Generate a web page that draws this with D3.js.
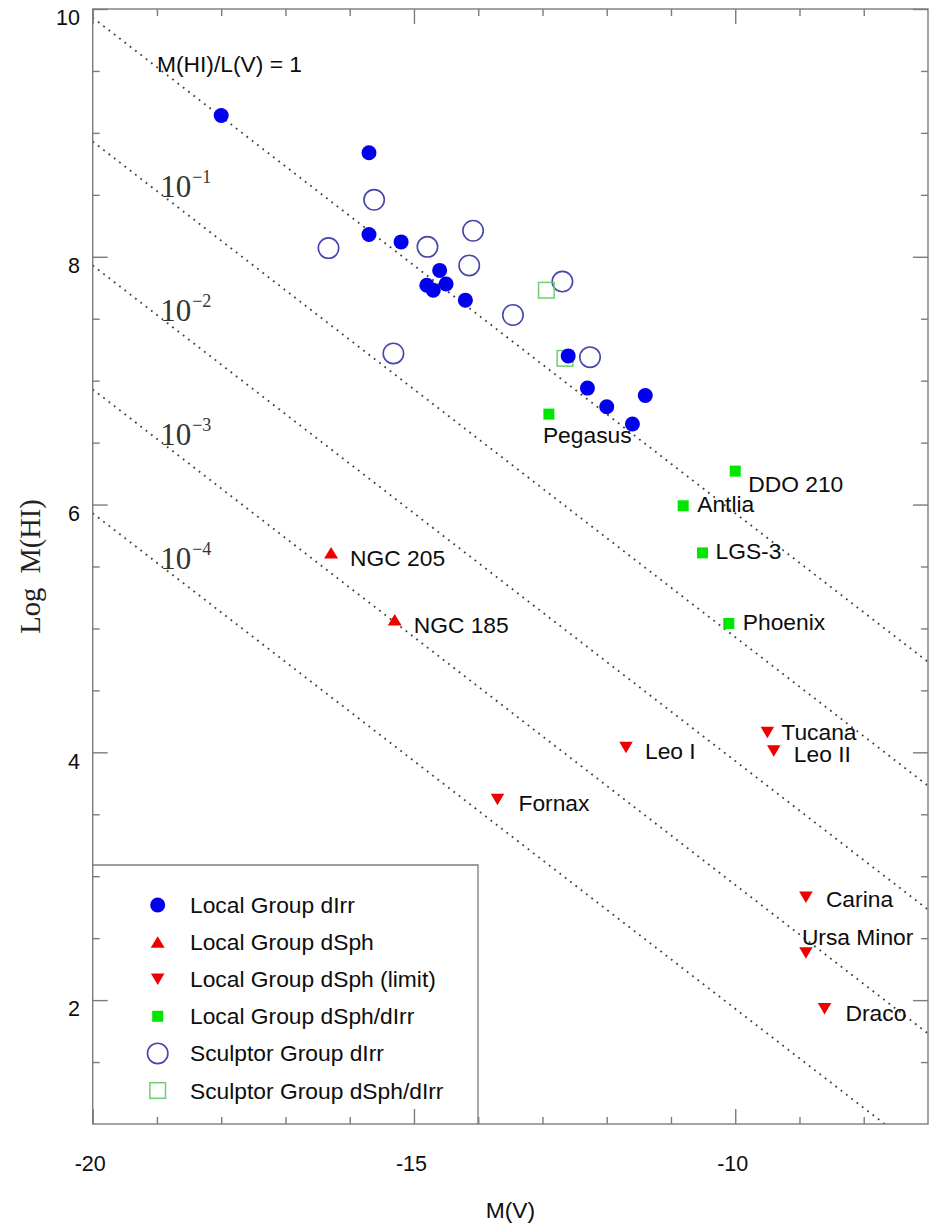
<!DOCTYPE html>
<html>
<head>
<meta charset="utf-8">
<script src="https://cdn.jsdelivr.net/npm/d3@7"></script>
<style>
  body { margin: 0; background: #fff; }
  svg { display: block; }
</style>
</head>
<body>
<svg id="chart" width="935" height="1227"></svg>
<script>
// ---- data: absolute magnitude M(V) and log HI mass ----
// Local Group dIrr (filled blue circles)
const lgDirrMV    = [-18.0, -15.7, -15.7, -15.2, -14.6, -14.5, -14.8, -14.7, -14.2, -12.6, -12.3, -12.0, -11.6, -11.4];
const lgDirrLogHI = [9.14, 8.84, 8.18, 8.12, 7.89, 7.78, 7.77, 7.73, 7.65, 7.20, 6.94, 6.79, 6.65, 6.88];

// Sculptor Group dIrr (open circles)
const sgDirrMV    = [-15.62, -16.33, -14.79, -14.08, -14.14, -12.69, -13.46, -12.26, -15.32];
const sgDirrLogHI = [8.46, 8.07, 8.08, 8.21, 7.93, 7.80, 7.53, 7.19, 7.22];

// Sculptor Group dSph/dIrr (open squares)
const sgTransMV    = [-12.94, -12.65];
const sgTransLogHI = [7.73, 7.18];

// Local Group dSph/dIrr (filled green squares)
const lgTransNames = ["Pegasus", "DDO 210", "Antlia", "LGS-3", "Phoenix"];
const lgTransMV    = [-12.90, -10.00, -10.81, -10.51, -10.10];
const lgTransLogHI = [6.73, 6.27, 5.99, 5.61, 5.04];

// Local Group dSph detections (upward triangles)
const lgDsphNames = ["NGC 205", "NGC 185"];
const lgDsphMV    = [-16.29, -15.30];
const lgDsphLogHI = [5.61, 5.07];

// Local Group dSph upper limits (downward triangles)
const lgLimitNames = ["Tucana", "Leo II", "Leo I", "Fornax", "Carina", "Ursa Minor", "Draco"];
const lgLimitMV    = [-9.50, -9.40, -11.70, -13.70, -8.90, -8.90, -8.61];
const lgLimitLogHI = [4.16, 4.01, 4.04, 3.62, 2.83, 2.38, 1.93];

// Lines of constant M(HI)/L(V): exponent and log M(HI) at M(V) = -20 and -7
const ratioExponents = [0, -1, -2, -3, -4];
const ratioLineStart = [9.93, 8.93, 7.93, 6.93, 5.93];
const ratioLineEnd   = [4.73, 3.73, 2.73, 1.73, 0.73];

// Axis ticks
const xMajorTicks = [-20, -15, -10];
const xMinorTicks = [-19, -18, -17, -16, -14, -13, -12, -11, -9, -8];
const yMajorTicks = [2, 4, 6, 8, 10];
const yMinorTicks = [1.5, 2.5, 3, 3.5, 4.5, 5, 5.5, 6.5, 7, 7.5, 8.5, 9, 9.5];

const legendLabels = [
  "Local Group dIrr",
  "Local Group dSph",
  "Local Group dSph (limit)",
  "Local Group dSph/dIrr",
  "Sculptor Group dIrr",
  "Sculptor Group dSph/dIrr"
];

// ---- layout ----
const svg = d3.select("#chart");
const pL = 92.7, pR = 928, pT = 9, pB = 1124;
const x = d3.scaleLinear().domain([-20, -7]).range([pL, pR]);
const y = d3.scaleLinear().domain([1, 10]).range([pB, pT]);

const SANS = "'Liberation Sans', Arial, Helvetica, sans-serif";
const SERIF = "'Liberation Serif', 'Times New Roman', serif";
const FRAME = "#7c7c7c";
const TEXT = "#0d0d0d";
const LABEL_SIZE = 22.8;
const BLUE = "#0000ee", RED = "#ee0000", GREEN = "#00e600";
const OPEN_BLUE = "#4646ae", OPEN_GREEN = "#72cc72";

svg.append("defs").append("clipPath").attr("id", "plotClip")
  .append("rect").attr("x", pL).attr("y", pT)
  .attr("width", pR - pL).attr("height", pB - pT);

// ---- constant-ratio dotted lines ----
const lineGen = d3.line().x(d => x(d[0])).y(d => y(d[1]));
svg.append("g").attr("clip-path", "url(#plotClip)")
  .selectAll("path").data(ratioExponents).join("path")
  .attr("d", (e, i) => lineGen([[-20, ratioLineStart[i]], [-7, ratioLineEnd[i]]]))
  .attr("fill", "none")
  .attr("stroke", "#404040")
  .attr("stroke-width", 1.8)
  .attr("stroke-dasharray", "1.8,4.9");

// ratio labels
svg.append("text")
  .attr("x", x(-19.0)).attr("y", y(9.49))
  .attr("font-family", SANS).attr("font-size", LABEL_SIZE).attr("fill", TEXT)
  .text("M(HI)/L(V) = 1");

const powGroup = svg.append("g");
ratioExponents.slice(1).forEach((e, i) => {
  const t = powGroup.append("text")
    .attr("x", x(-18.95)).attr("y", y(8.48 - i))
    .attr("font-family", SERIF).attr("fill", "#333");
  t.append("tspan").attr("font-size", 31).text("10");
  t.append("tspan").attr("font-size", 18).attr("dx", 1).attr("dy", -14)
    .text("\u2212" + Math.abs(e));
});

// ---- marker drawing ----
function triPath(w, h, up) {
  const s = up ? 1 : -1;
  return `M0,${-s * h / 2}L${w / 2},${s * h / 2}L${-w / 2},${s * h / 2}Z`;
}
const markers = {
  lgDirr:  g => g.append("circle").attr("r", 7.5).attr("fill", BLUE),
  lgDsph:  g => g.append("path").attr("d", triPath(14, 11.5, true)).attr("fill", RED),
  lgLimit: g => g.append("path").attr("d", triPath(13.5, 11.5, false)).attr("fill", RED),
  lgTrans: g => g.append("rect").attr("x", -5.5).attr("y", -5.5).attr("width", 11).attr("height", 11).attr("fill", GREEN),
  sgDirr:  g => g.append("circle").attr("r", 10.2).attr("fill", "none").attr("stroke", OPEN_BLUE).attr("stroke-width", 1.6),
  sgTrans: g => g.append("rect").attr("x", -7.8).attr("y", -7.8).attr("width", 15.6).attr("height", 15.6).attr("fill", "none").attr("stroke", OPEN_GREEN).attr("stroke-width", 1.5)
};

function plotSeries(mv, logHI, kind) {
  const g = svg.append("g");
  mv.forEach((m, i) => {
    const p = g.append("g").attr("transform", `translate(${x(m)},${y(logHI[i])})`);
    markers[kind](p);
  });
}

plotSeries(sgDirrMV, sgDirrLogHI, "sgDirr");
plotSeries(sgTransMV, sgTransLogHI, "sgTrans");
plotSeries(lgDirrMV, lgDirrLogHI, "lgDirr");
plotSeries(lgTransMV, lgTransLogHI, "lgTrans");
plotSeries(lgDsphMV, lgDsphLogHI, "lgDsph");
plotSeries(lgLimitMV, lgLimitLogHI, "lgLimit");

// ---- galaxy name labels (pixel offset from the marker) ----
const labelOffset = {
  "Pegasus": [-6, 29], "DDO 210": [13, 21], "Antlia": [14, 6], "LGS-3": [13, 6],
  "Phoenix": [14, 7], "NGC 205": [19, 13], "NGC 185": [19, 13], "Tucana": [14, 7],
  "Leo II": [20, 11], "Leo I": [19, 12], "Fornax": [21, 12], "Carina": [20, 10],
  "Ursa Minor": [-4, -8], "Draco": [21, 12]
};
function labelSeries(names, mv, logHI) {
  names.forEach((n, i) => {
    const o = labelOffset[n];
    svg.append("text")
      .attr("x", x(mv[i]) + o[0]).attr("y", y(logHI[i]) + o[1])
      .attr("font-family", SANS).attr("font-size", LABEL_SIZE).attr("fill", TEXT)
      .text(n);
  });
}
labelSeries(lgTransNames, lgTransMV, lgTransLogHI);
labelSeries(lgDsphNames, lgDsphMV, lgDsphLogHI);
labelSeries(lgLimitNames, lgLimitMV, lgLimitLogHI);

// ---- legend ----
const legTop = 865, legRight = 478, legX = 157.7, legTextX = 190, legY0 = 905, legStep = 37.1;
svg.append("path")
  .attr("d", `M${pL},${legTop}H${legRight}V${pB}`)
  .attr("fill", "none").attr("stroke", FRAME).attr("stroke-width", 1.3);
const legKinds = ["lgDirr", "lgDsph", "lgLimit", "lgTrans", "sgDirr", "sgTrans"];
legKinds.forEach((k, i) => {
  const p = svg.append("g").attr("transform", `translate(${legX},${legY0 + i * legStep})`);
  markers[k](p);
  svg.append("text")
    .attr("x", legTextX).attr("y", legY0 + i * legStep + 8)
    .attr("font-family", SANS).attr("font-size", LABEL_SIZE).attr("fill", TEXT)
    .text(legendLabels[i]);
});

// ---- frame and axes ----
svg.append("rect")
  .attr("x", pL).attr("y", pT).attr("width", pR - pL).attr("height", pB - pT)
  .attr("fill", "none").attr("stroke", FRAME).attr("stroke-width", 1.4);

function styleAxis(g) {
  g.select(".domain").remove();
  g.selectAll(".tick line").attr("stroke", FRAME).attr("stroke-width", 1.4);
  g.selectAll(".tick text").attr("fill", TEXT).attr("font-family", SANS).attr("font-size", 21.5);
}
const fmt = d => String(d);

// bottom
svg.append("g").attr("transform", `translate(0,${pB})`)
  .call(d3.axisBottom(x).tickValues(xMajorTicks).tickSizeInner(-15).tickSizeOuter(0).tickPadding(32).tickFormat(fmt))
  .call(styleAxis)
  .call(g => g.selectAll(".tick text").attr("dx", -3));
svg.append("g").attr("transform", `translate(0,${pB})`)
  .call(d3.axisBottom(x).tickValues(xMinorTicks).tickSizeInner(-7).tickSizeOuter(0).tickFormat(""))
  .call(styleAxis);
// top
svg.append("g").attr("transform", `translate(0,${pT})`)
  .call(d3.axisTop(x).tickValues(xMajorTicks).tickSizeInner(-15).tickSizeOuter(0).tickFormat(""))
  .call(styleAxis);
svg.append("g").attr("transform", `translate(0,${pT})`)
  .call(d3.axisTop(x).tickValues(xMinorTicks).tickSizeInner(-7).tickSizeOuter(0).tickFormat(""))
  .call(styleAxis);
// left
svg.append("g").attr("transform", `translate(${pL},0)`)
  .call(d3.axisLeft(y).tickValues(yMajorTicks).tickSizeInner(-15).tickSizeOuter(0).tickPadding(12.7).tickFormat(fmt))
  .call(styleAxis)
  .call(g => g.selectAll(".tick text").attr("dy", "0.73em"));
svg.append("g").attr("transform", `translate(${pL},0)`)
  .call(d3.axisLeft(y).tickValues(yMinorTicks).tickSizeInner(-7).tickSizeOuter(0).tickFormat(""))
  .call(styleAxis);
// right
svg.append("g").attr("transform", `translate(${pR},0)`)
  .call(d3.axisRight(y).tickValues(yMajorTicks).tickSizeInner(-15).tickSizeOuter(0).tickFormat(""))
  .call(styleAxis);
svg.append("g").attr("transform", `translate(${pR},0)`)
  .call(d3.axisRight(y).tickValues(yMinorTicks).tickSizeInner(-7).tickSizeOuter(0).tickFormat(""))
  .call(styleAxis);

// ---- axis titles ----
svg.append("text")
  .attr("x", (pL + pR) / 2).attr("y", 1218)
  .attr("text-anchor", "middle")
  .attr("font-family", SANS).attr("font-size", LABEL_SIZE).attr("fill", TEXT)
  .text("M(V)");

svg.append("text")
  .attr("transform", `translate(40,${(pT + pB) / 2}) rotate(-90)`)
  .attr("text-anchor", "middle")
  .attr("font-family", SERIF).attr("font-size", 28.5).attr("fill", "#222")
  .attr("xml:space", "preserve")
  .text("Log  M(HI)");
</script>
</body>
</html>
